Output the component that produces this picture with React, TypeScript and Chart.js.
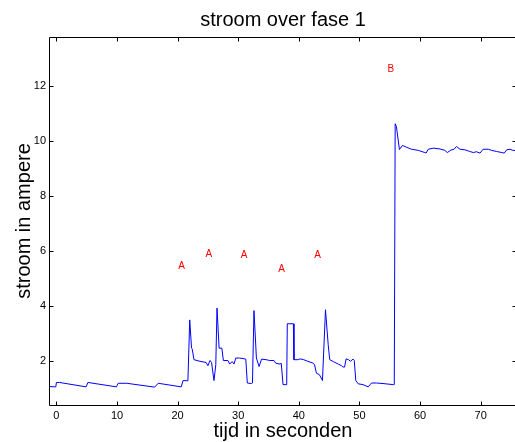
import React, { useEffect, useRef } from 'react';
import { Chart, registerables } from 'chart.js';

Chart.register(...registerables);

// ---- data ----
const timeSeconds = [
  -1.2, -0.1, 0.0, 0.5, 4.9, 5.2, 9.9, 10.2, 11.6, 16.2, 16.8, 20.6, 20.9, 21.7,
  22.0, 22.3, 22.4, 22.7, 23.7, 24.7, 25.0, 25.35, 25.6, 26.0, 26.3, 26.5, 26.85,
  27.3, 27.55, 28.3, 28.6, 29.0, 29.3, 29.6, 30.2, 30.8, 31.25, 31.5, 32.2, 32.35,
  32.6, 33.0, 33.45, 33.85, 34.6, 35.2, 35.9, 36.2, 36.9, 37.1, 37.4, 38.0, 38.1,
  39.1, 39.2, 39.9, 40.2, 40.8, 41.5, 42.4, 42.6, 42.9, 43.4, 43.6, 43.9, 44.4,
  44.85, 45.1, 45.7, 46.5, 47.05, 47.3, 47.55, 47.8, 48.2, 48.5, 48.95, 49.15,
  49.4, 49.8, 50.6, 51.45, 52.0, 52.8, 53.9, 55.6, 55.75, 55.9, 56.1, 56.6, 57.1,
  57.7, 58.6, 59.7, 60.8, 61.0, 61.35, 62.2, 63.3, 64.1, 64.5, 65.1, 65.6, 66.0,
  66.6, 67.4, 68.2, 68.8, 69.3, 69.9, 70.4, 71.3, 71.8, 72.6, 73.5, 73.9, 74.3,
  74.85, 75.3, 76.0,
];
const currentAmpere = [
  1.05, 1.04, 1.2, 1.2, 1.04, 1.2, 1.04, 1.17, 1.17, 1.03, 1.17, 1.04, 1.27, 1.26,
  3.48, 2.45, 2.43, 2.03, 1.97, 1.93, 1.81, 2.0, 1.93, 1.27, 1.84, 3.91, 2.45,
  2.45, 2.0, 2.0, 1.87, 1.96, 1.87, 2.09, 2.09, 2.07, 2.05, 1.18, 1.16, 1.18,
  3.82, 2.09, 1.78, 2.05, 2.03, 2.0, 2.0, 1.9, 1.87, 1.9, 1.12, 1.12, 3.34,
  3.34, 2.03, 2.03, 2.06, 2.03, 1.97, 1.9, 1.84, 1.54, 1.48, 1.4, 1.27, 3.85,
  2.57, 2.03, 1.96, 1.87, 1.81, 1.76, 1.76, 2.06, 2.03, 1.97, 2.05, 2.0,
  1.27, 1.15, 1.12, 1.04, 1.18, 1.18, 1.16, 1.12, 1.12, 10.63, 10.53, 9.69, 9.84,
  9.78, 9.7, 9.66, 9.58, 9.56, 9.7, 9.74, 9.71, 9.66, 9.58, 9.67, 9.7, 9.8,
  9.7, 9.68, 9.62, 9.58, 9.61, 9.56, 9.7, 9.7, 9.66, 9.62, 9.58, 9.56, 9.68,
  9.7, 9.66, 9.65,
];
const xTickValues = [0, 10, 20, 30, 40, 50, 60, 70];
const yTickValues = [2, 4, 6, 8, 10, 12];
const noteTexts = ['A', 'A', 'A', 'A', 'A', 'B'];
const noteX = [20.64, 25.14, 30.97, 37.15, 43.09, 55.2];
const noteY = [5.45, 5.89, 5.82, 5.31, 5.85, 12.6];

const X_MIN = -1.22;
const X_MAX = 76.0;
const Y_MIN = 0.36;
const Y_MAX = 13.81;

const FONT = "'Liberation Sans', Arial, Helvetica, sans-serif";

const boxPlugin = {
  id: 'matlabBox',
  afterDatasetsDraw(chart: any) {
    const { ctx, chartArea, scales } = chart;
    const l = Math.round(chartArea.left) + 0.5;
    const r = Math.round(chartArea.right) - 0.5;
    const t = Math.round(chartArea.top) + 0.5;
    const b = Math.round(chartArea.bottom) - 0.5;
    ctx.save();
    ctx.strokeStyle = '#000';
    ctx.lineWidth = 1;
    ctx.beginPath();
    ctx.rect(l, t, r - l, b - t);
    const tl = 4;
    xTickValues.forEach((v) => {
      const px = Math.round(scales.x.getPixelForValue(v)) + 0.5;
      ctx.moveTo(px, b);
      ctx.lineTo(px, b - tl);
      ctx.moveTo(px, t);
      ctx.lineTo(px, t + tl);
    });
    yTickValues.forEach((v) => {
      const py = Math.round(scales.y.getPixelForValue(v)) + 0.5;
      ctx.moveTo(l, py);
      ctx.lineTo(l + tl, py);
      ctx.moveTo(r, py);
      ctx.lineTo(r - tl, py);
    });
    ctx.stroke();

    ctx.fillStyle = '#ff0000';
    ctx.font = `10px ${FONT}`;
    ctx.textAlign = 'center';
    ctx.textBaseline = 'middle';
    noteTexts.forEach((txt, i) => {
      ctx.fillText(txt, scales.x.getPixelForValue(noteX[i]), scales.y.getPixelForValue(noteY[i]));
    });
    ctx.restore();
  },
};

export default function App() {
  const canvasRef = useRef<HTMLCanvasElement | null>(null);

  useEffect(() => {
    const canvas = canvasRef.current;
    if (!canvas) return;
    const chart = new Chart(canvas, {
      type: 'line',
      data: {
        datasets: [
          {
            data: timeSeconds.map((t, i) => ({ x: t, y: currentAmpere[i] })),
            borderColor: '#0000ff',
            borderWidth: 1,
            pointRadius: 0,
            tension: 0,
            fill: false,
          },
        ],
      },
      options: {
        responsive: false,
        animation: false,
        devicePixelRatio: 1,
        layout: { padding: { left: 0, right: 5, top: 0, bottom: 0 } },
        plugins: {
          legend: { display: false },
          tooltip: { enabled: false },
          title: {
            display: true,
            fullSize: false,
            text: 'stroom over fase 1',
            color: '#000',
            font: { family: FONT, size: 20, weight: 'normal', lineHeight: 1.2 },
            padding: { top: 8, bottom: 4.5 },
          },
        },
        scales: {
          x: {
            type: 'linear',
            min: X_MIN,
            max: X_MAX,
            afterBuildTicks: (scale: any) => {
              scale.ticks = xTickValues.map((v) => ({ value: v }));
            },
            afterFit: (scale: any) => {
              scale.height = 36.5;
            },
            grid: { display: false, drawTicks: false },
            border: { display: false },
            ticks: {
              color: '#000',
              padding: 4,
              maxRotation: 0,
              autoSkip: false,
              font: { family: FONT, size: 11 },
            },
            title: {
              display: true,
              text: 'tijd in seconden',
              color: '#000',
              font: { family: FONT, size: 20, lineHeight: 1 },
              padding: { top: 0, bottom: 1 },
            },
          },
          y: {
            type: 'linear',
            min: Y_MIN,
            max: Y_MAX,
            afterBuildTicks: (scale: any) => {
              scale.ticks = yTickValues.map((v) => ({ value: v }));
            },
            afterFit: (scale: any) => {
              scale.width = 49;
            },
            grid: { display: false, drawTicks: false },
            border: { display: false },
            ticks: {
              color: '#000',
              padding: 3,
              autoSkip: false,
              font: { family: FONT, size: 11 },
            },
            title: {
              display: true,
              text: 'stroom in ampere',
              color: '#000',
              font: { family: FONT, size: 20, lineHeight: 1.2 },
              padding: { top: 12, bottom: 0 },
            },
          },
        },
      },
      plugins: [boxPlugin],
    } as any);
    return () => chart.destroy();
  }, []);

  return (
    <div
      style={{
        position: 'fixed',
        left: 0,
        top: 0,
        width: 515,
        height: 442,
        overflow: 'hidden',
        background: '#fff',
      }}
    >
      <canvas
        ref={canvasRef}
        width={522}
        height={442}
        style={{ display: 'block', width: 522, height: 442 }}
      />
    </div>
  );
}
